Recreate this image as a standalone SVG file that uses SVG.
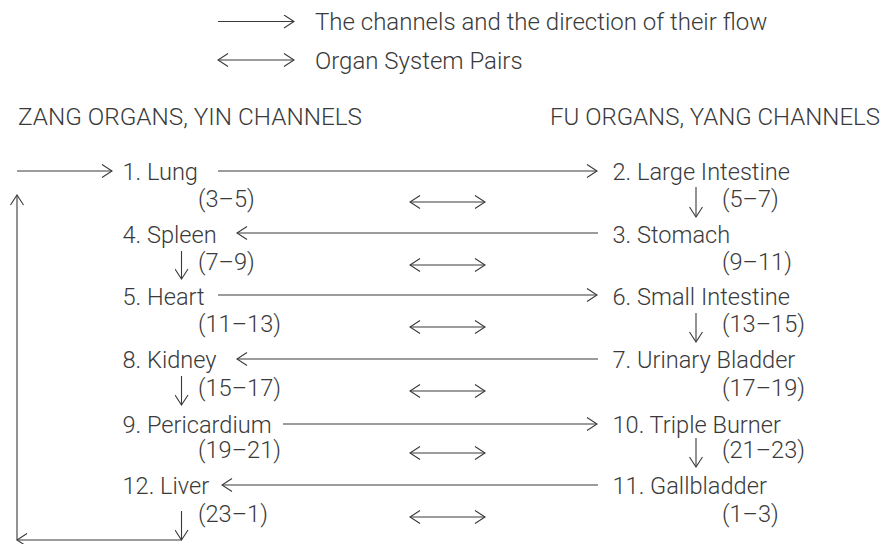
<svg xmlns="http://www.w3.org/2000/svg" width="884" height="544" viewBox="0 0 884 544">
  <defs>
    <!-- open chevron arrowhead used on every connector -->
    <marker id="head" viewBox="0 0 12 14" refX="11" refY="7" markerWidth="12" markerHeight="14" markerUnits="userSpaceOnUse" orient="auto-start-reverse">
      <path d="M1,0.5 L11,7 L1,13.5" fill="none" stroke="#3a3a3a" stroke-width="1.1"/>
    </marker>
  </defs>
  <style>
    text { font-family: Roboto, "Liberation Sans", sans-serif; font-weight: 300; fill: #3a3a3a; font-size: 23.6px; }
    .legend { font-size: 24px; }
    .hdr { font-size: 24px; }
    .ln { stroke: #3a3a3a; stroke-width: 1.1; fill: none; }
    .one { marker-end: url(#head); }
    .two { marker-start: url(#head); marker-end: url(#head); }
  </style>
  <rect width="884" height="544" fill="#ffffff"/>

  <!-- legend -->
  <g id="legend">
    <line class="ln one" x1="218" y1="21.5" x2="294" y2="21.5"/>
    <text class="legend" x="315" y="30">The channels and the direction of their flow</text>
    <line class="ln two" x1="218" y1="60" x2="294" y2="60"/>
    <text class="legend" x="315" y="68.5">Organ System Pairs</text>
  </g>

  <!-- column headings -->
  <g id="headings">
    <text class="hdr" x="18" y="124.5" textLength="344" lengthAdjust="spacingAndGlyphs">ZANG ORGANS, YIN CHANNELS</text>
    <text class="hdr" x="550" y="124.5" textLength="330" lengthAdjust="spacingAndGlyphs">FU ORGANS, YANG CHANNELS</text>
  </g>

  <!-- yin organs (left column) -->
  <g id="lung"><text x="122.5" y="180">1. Lung</text><text x="198" y="207">(3–5)</text></g>
  <g id="spleen"><text x="122.5" y="242.5">4. Spleen</text><text x="198" y="270">(7–9)</text></g>
  <g id="heart"><text x="122.5" y="304.5">5. Heart</text><text x="198" y="332">(11–13)</text></g>
  <g id="kidney"><text x="122.5" y="368">8. Kidney</text><text x="198" y="396">(15–17)</text></g>
  <g id="pericardium"><text x="122.5" y="433">9. Pericardium</text><text x="198" y="458">(19–21)</text></g>
  <g id="liver"><text x="122.5" y="494">12. Liver</text><text x="198" y="522">(23–1)</text></g>

  <!-- yang organs (right column) -->
  <g id="large-intestine"><text x="612.5" y="180">2. Large Intestine</text><text x="722" y="207">(5–7)</text></g>
  <g id="stomach"><text x="612.5" y="242.5">3. Stomach</text><text x="722" y="270">(9–11)</text></g>
  <g id="small-intestine"><text x="612.5" y="304.5">6. Small Intestine</text><text x="722" y="332">(13–15)</text></g>
  <g id="urinary-bladder"><text x="612.5" y="368">7. Urinary Bladder</text><text x="722" y="396">(17–19)</text></g>
  <g id="triple-burner"><text x="612.5" y="433">10. Triple Burner</text><text x="722" y="458">(21–23)</text></g>
  <g id="gallbladder"><text x="612.5" y="494">11. Gallbladder</text><text x="722" y="522">(1–3)</text></g>

  <g id="connectors">
    <!-- flow between channels -->
    <line class="ln one" x1="218" y1="171" x2="597" y2="171"/>
    <line class="ln one" x1="598" y1="233" x2="237" y2="233"/>
    <line class="ln one" x1="218" y1="295" x2="597" y2="295"/>
    <line class="ln one" x1="598" y1="359" x2="237" y2="359"/>
    <line class="ln one" x1="283" y1="424" x2="597" y2="424"/>
    <line class="ln one" x1="598" y1="485" x2="222" y2="485"/>

    <!-- vertical steps -->
    <line class="ln one" x1="696" y1="187" x2="696" y2="217"/>
    <line class="ln one" x1="181.5" y1="251" x2="181.5" y2="279"/>
    <line class="ln one" x1="696" y1="313" x2="696" y2="342"/>
    <line class="ln one" x1="181.5" y1="376" x2="181.5" y2="405"/>
    <line class="ln one" x1="696" y1="438" x2="696" y2="467"/>
    <line class="ln one" x1="181.5" y1="511" x2="181.5" y2="540"/>

    <!-- return loop from liver back to lung -->
    <line class="ln one" x1="181.5" y1="540" x2="17" y2="540"/>
    <line class="ln one" x1="17" y1="540" x2="17" y2="195"/>
    <line class="ln one" x1="17" y1="171" x2="112" y2="171"/>

    <!-- organ system pairs -->
    <line class="ln two" x1="410" y1="202" x2="485" y2="202"/>
    <line class="ln two" x1="410" y1="265" x2="485" y2="265"/>
    <line class="ln two" x1="410" y1="327" x2="485" y2="327"/>
    <line class="ln two" x1="410" y1="391" x2="485" y2="391"/>
    <line class="ln two" x1="410" y1="453" x2="485" y2="453"/>
    <line class="ln two" x1="410" y1="517" x2="485" y2="517"/>
  </g>
</svg>
